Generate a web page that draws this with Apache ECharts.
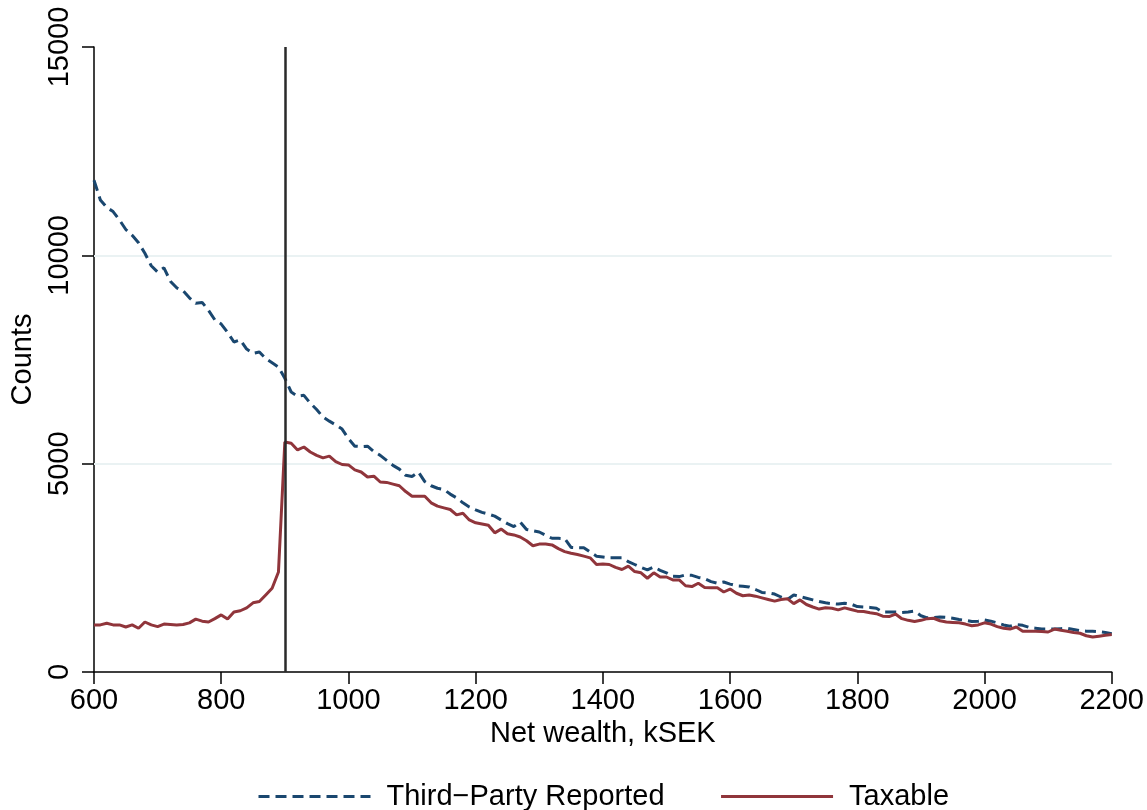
<!DOCTYPE html>
<html>
<head>
<meta charset="utf-8">
<script src="https://cdn.jsdelivr.net/npm/echarts@6/dist/echarts.min.js"></script>
<style>
html,body{margin:0;padding:0;background:#fff;}
#chart{width:1147px;height:810px;}
</style>
</head>
<body>
<div id="chart"></div>
<script>
// Net wealth bins (kSEK)
const wealth = [
 600,610,620,630,640,650,660,670,680,690,
 700,710,720,730,740,750,760,770,780,790,
 800,810,820,830,840,850,860,870,880,890,
 900,910,920,930,940,950,960,970,980,990,
 1000,1010,1020,1030,1040,1050,1060,1070,1080,1090,
 1100,1110,1120,1130,1140,1150,1160,1170,1180,1190,
 1200,1210,1220,1230,1240,1250,1260,1270,1280,1290,
 1300,1310,1320,1330,1340,1350,1360,1370,1380,1390,
 1400,1410,1420,1430,1440,1450,1460,1470,1480,1490,
 1500,1510,1520,1530,1540,1550,1560,1570,1580,1590,
 1600,1610,1620,1630,1640,1650,1660,1670,1680,1690,
 1700,1710,1720,1730,1740,1750,1760,1770,1780,1790,
 1800,1810,1820,1830,1840,1850,1860,1870,1880,1890,
 1900,1910,1920,1930,1940,1950,1960,1970,1980,1990,
 2000,2010,2020,2030,2040,2050,2060,2070,2080,2090,
 2100,2110,2120,2130,2140,2150,2160,2170,2180,2190,
 2200
];

// Third-party reported counts
const thirdParty = [
 11800,11330,11150,11050,10850,10620,10480,10300,10050,9750,
 9600,9700,9380,9220,9150,8980,8850,8870,8680,8450,
 8350,8150,7920,7970,7750,7650,7680,7520,7420,7320,
 7050,6720,6620,6640,6450,6300,6120,6020,5930,5830,
 5600,5420,5410,5420,5290,5200,5080,4960,4870,4720,
 4690,4800,4570,4470,4410,4380,4270,4180,4060,3960,
 3890,3830,3790,3740,3650,3560,3490,3600,3420,3390,
 3360,3280,3210,3210,3200,2990,2980,2980,2880,2780,
 2760,2740,2740,2740,2650,2580,2510,2450,2520,2440,
 2380,2300,2290,2330,2320,2270,2240,2170,2130,2160,
 2110,2070,2060,2040,1980,1910,1900,1870,1800,1740,
 1850,1810,1770,1730,1690,1660,1640,1630,1650,1630,
 1570,1560,1550,1530,1440,1440,1440,1430,1440,1460,
 1350,1300,1310,1320,1310,1290,1260,1240,1210,1220,
 1250,1220,1180,1130,1100,1140,1120,1070,1050,1030,
 1030,1030,1040,1050,1020,990,980,980,970,950,
 920
];

// Taxable counts
const taxable = [
 1130,1130,1170,1130,1130,1080,1130,1050,1200,1130,
 1090,1150,1140,1130,1140,1180,1270,1220,1200,1280,
 1370,1270,1440,1470,1540,1660,1690,1850,2010,2400,
 5520,5490,5330,5400,5280,5200,5140,5180,5050,4980,
 4970,4850,4800,4680,4700,4560,4550,4510,4470,4330,
 4220,4220,4220,4060,3980,3940,3900,3770,3810,3650,
 3580,3550,3520,3340,3430,3320,3290,3240,3150,3030,
 3070,3070,3050,2960,2890,2850,2820,2780,2740,2580,
 2590,2580,2510,2460,2540,2410,2380,2250,2380,2280,
 2280,2210,2210,2070,2050,2130,2030,2020,2020,1920,
 1990,1890,1830,1850,1820,1780,1740,1700,1740,1760,
 1640,1730,1620,1560,1510,1540,1530,1490,1540,1500,
 1460,1450,1420,1400,1340,1330,1390,1280,1240,1210,
 1240,1280,1290,1230,1200,1190,1180,1150,1110,1130,
 1180,1150,1090,1050,1030,1080,980,980,980,970,
 960,1030,1000,980,950,930,870,840,860,880,
 900
];

const seriesNames = ['Third\u2212Party Reported', 'Taxable'];
const gridLines = [5000, 10000];
const threshold = 900;

const FONT = 'Liberation Sans';
const chart = echarts.init(document.getElementById('chart'), null, {renderer: 'canvas'});
const plain = v => String(v);

chart.setOption({
  animation: false,
  backgroundColor: '#ffffff',
  textStyle: {fontFamily: FONT, color: '#000'},
  grid: {left: 94, right: 34, top: 47, bottom: 138, containLabel: false},
  xAxis: {
    type: 'value', min: 600, max: 2200, interval: 200,
    name: 'Net wealth, kSEK', nameLocation: 'middle', nameGap: 47,
    nameTextStyle: {fontFamily: FONT, fontSize: 29, color: '#000'},
    axisLine: {show: true, onZero: false, lineStyle: {color: '#000', width: 1.5}},
    axisTick: {show: true, length: 12, lineStyle: {color: '#000', width: 1.5}},
    axisLabel: {fontFamily: FONT, fontSize: 29, color: '#000', margin: 14, formatter: plain},
    splitLine: {show: false}
  },
  yAxis: {
    type: 'value', min: 0, max: 15000, interval: 5000,
    name: 'Counts', nameLocation: 'middle', nameGap: 55, nameRotate: 90,
    nameTextStyle: {fontFamily: FONT, fontSize: 29, color: '#000'},
    axisLine: {show: true, lineStyle: {color: '#000', width: 1.5}},
    axisTick: {show: true, length: 12, lineStyle: {color: '#000', width: 1.5}},
    axisLabel: {fontFamily: FONT, fontSize: 29, color: '#000', rotate: 90, margin: 20, formatter: plain},
    splitLine: {show: false}
  },
  legend: {
    top: 782, left: 257, padding: 0,
    itemWidth: 112, itemHeight: 14, itemGap: 55,
    itemStyle: {opacity: 0},
    lineStyle: {width: 3},
    textStyle: {fontFamily: FONT, fontSize: 29, color: '#000', padding: [0,0,0,11]},
    data: seriesNames
  },
  series: [
    {
      name: seriesNames[0], type: 'line', showSymbol: false, symbol: 'none',
      data: wealth.map((w, i) => [w, thirdParty[i]]),
      lineStyle: {color: '#1a476f', width: 3, type: [11, 6]},
      itemStyle: {color: '#1a476f'},
      z: 3,
      markLine: {
        silent: true, symbol: 'none', label: {show: false},
        lineStyle: {color: '#eaf2f3', width: 2, type: 'solid'},
        data: gridLines.map(v => ({yAxis: v})),
        z: 1
      }
    },
    {
      name: seriesNames[1], type: 'line', showSymbol: false, symbol: 'none',
      data: wealth.map((w, i) => [w, taxable[i]]),
      lineStyle: {color: '#90353b', width: 3, type: 'solid'},
      itemStyle: {color: '#90353b'},
      z: 4,
      markLine: {
        silent: true, symbol: 'none', label: {show: false},
        lineStyle: {color: '#2a2a2a', width: 2.5, type: 'solid'},
        data: [{xAxis: threshold}]
      }
    }
  ]
});
</script>
</body>
</html>
